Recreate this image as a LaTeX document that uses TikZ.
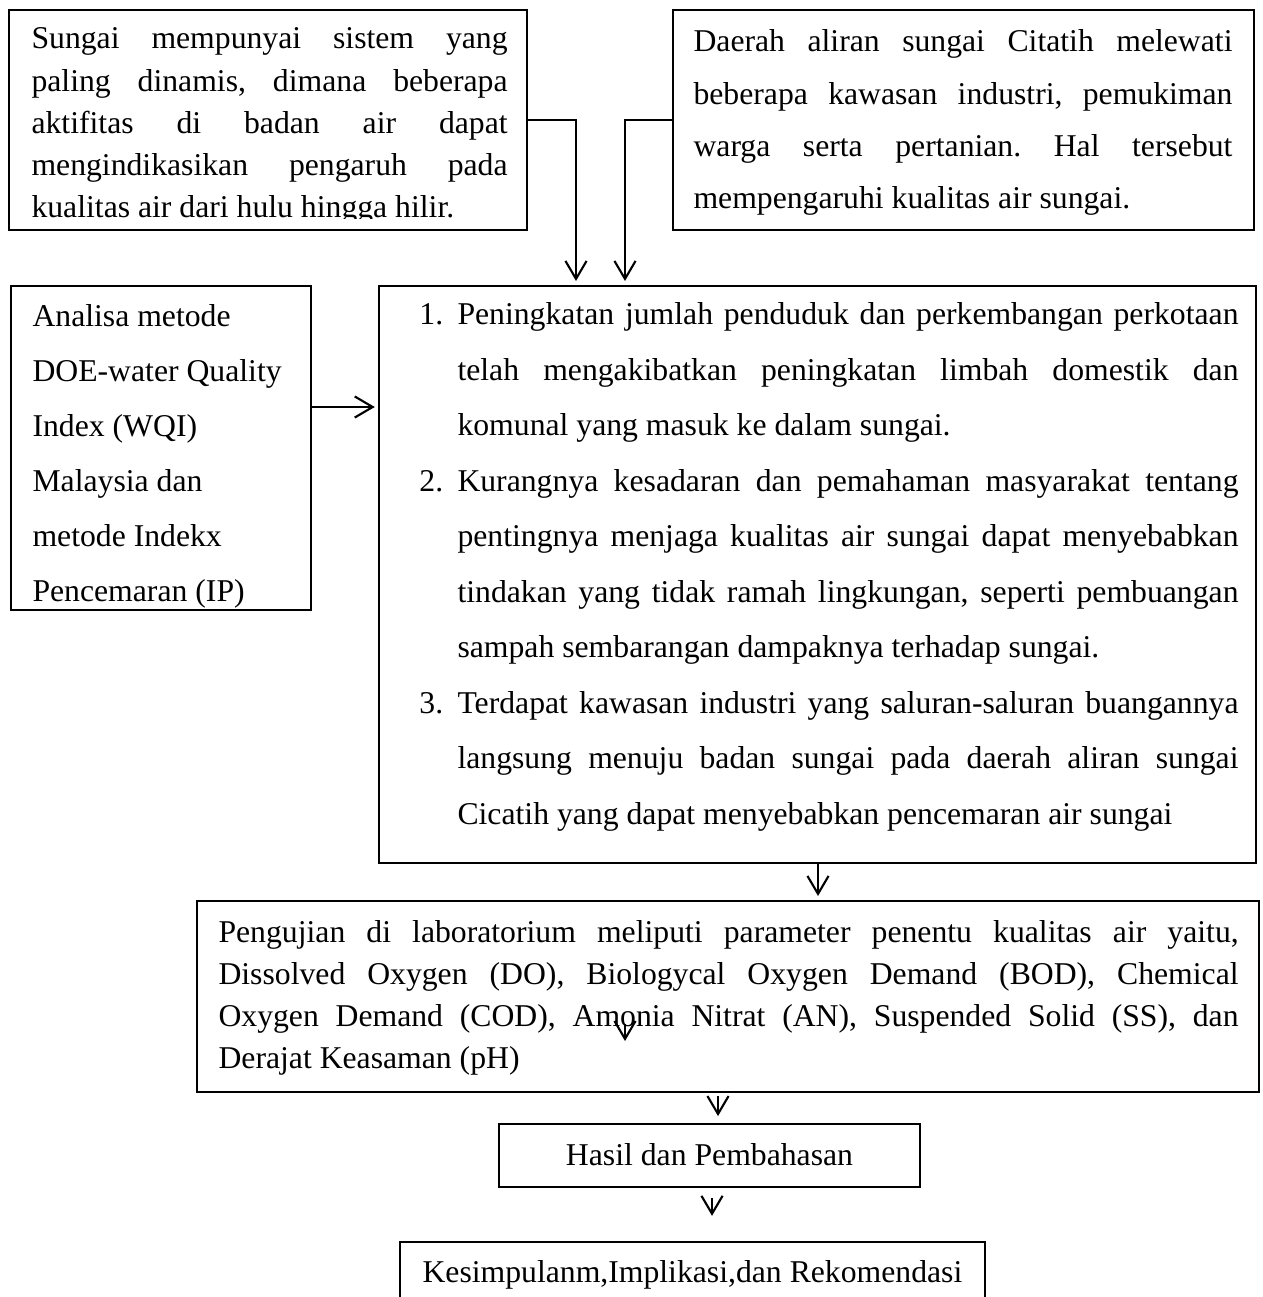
\documentclass[tikz,border=0pt]{standalone}
\usepackage{fontspec}
\setmainfont{Liberation Serif}
\usetikzlibrary{arrows.meta,fit}
\frenchspacing
% justified line of given width, plain line, numbered line
\newcommand{\jl}[2]{\hbox to #1{#2}}
\newcommand{\pl}[1]{\hbox{#1}}
\newcommand{\lnum}[1]{\llap{\hbox to 14.4pt{#1\hfil}}}
\begin{document}
\begin{tikzpicture}[x=0.3785pt,y=-0.3785pt,
  box/.style={draw, line width=0.8pt, inner sep=0pt},
  tx/.style={inner sep=0pt, anchor=base west},
  arr/.style={line width=0.8pt, -{Straight Barb[length=6.8pt,width=8pt]}}]
\useasboundingbox (0,0) rectangle (1262,1297);
\fill[white] (0,0) rectangle (1262,1297);

% boxes
\node[box, fit={(9,10) (527,230)}] (b1) {};
\node[box, fit={(673,10) (1254,230)}] (b2) {};
\node[box, fit={(11,286) (311,610)}] (lb) {};
\node[box, fit={(379,286) (1256,863)}] (main) {};
\node[box, fit={(197,901) (1259,1092)}] (b3) {};
\node[box, fit={(499,1124) (920,1187)}] (hasil) {};
\node[tx, anchor=base, font=\fontsize{12pt}{14pt}\selectfont] (ht) at (709.5,1165) {Hasil dan Pembahasan};

% box 1 text
\begin{scope}
\clip (9,10) rectangle (527,219);
\node[tx, font=\fontsize{12pt}{15.9pt}\selectfont] (t1) at (31,49) {\vtop{%
\jl{180.2pt}{Sungai mempunyai sistem yang}
\jl{180.2pt}{paling dinamis, dimana beberapa}
\jl{180.2pt}{aktifitas di badan air dapat}
\jl{180.2pt}{mengindikasikan pengaruh pada}
\pl{kualitas air dari hulu hingga hilir.}}};
\end{scope}

% box 2 text
\begin{scope}
\clip (673,10) rectangle (1254,216);
\node[tx, font=\fontsize{12pt}{19.7pt}\selectfont] (t2) at (693,52) {\vtop{%
\jl{204pt}{Daerah aliran sungai Citatih melewati}
\jl{204pt}{beberapa kawasan industri, pemukiman}
\jl{204pt}{warga serta pertanian. Hal tersebut}
\pl{mempengaruhi kualitas air sungai.}}};
\end{scope}

% left box text
\node[tx, font=\fontsize{12pt}{20.8pt}\selectfont] (tl) at (32,327) {\vtop{%
\pl{Analisa metode}
\pl{DOE-water Quality}
\pl{Index (WQI)}
\pl{Malaysia dan}
\pl{metode Indekx}
\pl{Pencemaran (IP)}}};

% main box text
\node[tx, font=\fontsize{12pt}{21pt}\selectfont] (tm) at (457,325) {\vtop{%
\jl{295.6pt}{\lnum{1.}Peningkatan jumlah penduduk dan perkembangan perkotaan}
\jl{295.6pt}{telah mengakibatkan peningkatan limbah domestik dan}
\pl{komunal yang masuk ke dalam sungai.}
\jl{295.6pt}{\lnum{2.}Kurangnya kesadaran dan pemahaman masyarakat tentang}
\jl{295.6pt}{pentingnya menjaga kualitas air sungai dapat menyebabkan}
\jl{295.6pt}{tindakan yang tidak ramah lingkungan, seperti pembuangan}
\pl{sampah sembarangan dampaknya terhadap sungai.}
\jl{295.6pt}{\lnum{3.}Terdapat kawasan industri yang saluran-saluran buangannya}
\jl{295.6pt}{langsung menuju badan sungai pada daerah aliran sungai}
\pl{Cicatih yang dapat menyebabkan pencemaran air sungai}}};

% box 3 text
\node[tx, font=\fontsize{12pt}{15.9pt}\selectfont] (t3) at (218,942) {\vtop{%
\jl{386.1pt}{Pengujian di laboratorium meliputi parameter penentu kualitas air yaitu,}
\jl{386.1pt}{Dissolved Oxygen (DO), Biologycal Oxygen Demand (BOD), Chemical}
\jl{386.1pt}{Oxygen Demand (COD), Amonia Nitrat (AN), Suspended Solid (SS), dan}
\pl{Derajat Keasaman (pH)}}};

% bottom box (cut by page edge)
\begin{scope}
\clip (0,0) rectangle (1262,1297);
\node[box, fit={(400,1242) (985,1340)}] (kes) {};
\node[tx, font=\fontsize{12pt}{14pt}\selectfont] (tk) at (422,1282) {Kesimpulanm,Implikasi,dan Rekomendasi};
\end{scope}

% connectors
\coordinate (x1) at (576,0);
\coordinate (x2) at (625,0);
\coordinate (yl) at (0,407);
\coordinate (x3) at (818,0);
\coordinate (x4) at (718,0);
\coordinate (x5) at (712,0);
\coordinate (s1) at (625,1024);
\coordinate (s2) at (625,1041);
\draw[arr, shorten >=1.5pt] (b1.east) -| (main.north -| x1);
\draw[arr, shorten >=1.5pt] (b2.west) -| (main.north -| x2);
\draw[arr, shorten >=1.2pt] (lb.east |- yl) -- (main.west |- yl);
\draw[arr, shorten >=1.5pt] (main.south -| x3) -- (b3.north -| x3);
\draw[arr, shorten <=1.2pt, shorten >=2.6pt] (b3.south -| x4) -- (hasil.north -| x4);
\draw[arr, shorten <=3.8pt, shorten >=9.5pt] (hasil.south -| x5) -- (kes.north -| x5);
\draw[arr] (s1) -- (s2);
\end{tikzpicture}
\end{document}
